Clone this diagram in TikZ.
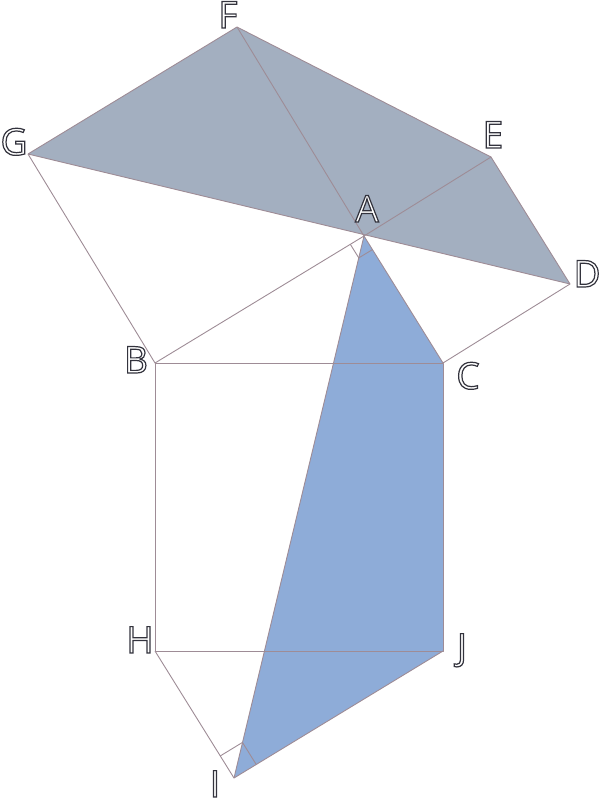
\documentclass[tikz,border=0pt]{standalone}
\usepackage{fontspec}
\setmainfont{Open Sans}
\usetikzlibrary{calc}
\definecolor{edge}{RGB}{158,140,150}
\definecolor{grayfill}{RGB}{163,175,192}
\definecolor{bluefill}{RGB}{142,172,216}
\newcommand\outl[1]{\special{pdf:literal direct 2 Tr 1.2 w 0.2 0.2 0.24 RG}#1\special{pdf:literal direct 0 Tr}}
\begin{document}
\begin{tikzpicture}[x=1pt,y=-1pt,
  seg/.style={draw=edge,line width=0.9pt,line join=round},
  lab/.style={anchor=base,inner sep=0pt,text=white,font=\fontsize{37}{37}\selectfont}]
\useasboundingbox (0,0) rectangle (601,801);
\coordinate (A) at (364,236);
\coordinate (B) at (155,363);
\coordinate (C) at (443,363);
\coordinate (G) at (28,154);
\coordinate (F) at (237,27);
\coordinate (E) at (491,157);
\coordinate (D) at (570,284);
\coordinate (H) at (155,651);
\coordinate (J) at (443,651);
\coordinate (I) at (234,778);
% fills
\fill[grayfill] (G) -- (F) -- (E) -- (D) -- cycle;
\fill[bluefill] (A) -- (C) -- (J) -- (I) -- cycle;
% edges
\draw[seg] (G) -- (F) -- (E) -- (D) -- (G);
\draw[seg] (F) -- (A) -- (E);
\draw[seg] (G) -- (B) -- (A) -- (C) -- (D);
\draw[seg] (B) -- (C) -- (J) -- (H) -- (B);
\draw[seg] (H) -- (I) -- (J);
\draw[seg] (A) -- (I);
% right angle marks
\draw[seg] ($(A)!16pt!(B)$) -- ($(A)!16pt!(B)+(A)!16pt!(C)-(A)$) -- ($(A)!16pt!(C)$);
\draw[seg] ($(I)!26pt!(H)$) -- ($(I)!26pt!(H)+(I)!26pt!(J)-(I)$) -- ($(I)!26pt!(J)$);
% labels
\node[lab] (lF) at (228,28) {\outl{F}};
\node[lab] (lG) at (14,155) {\outl{G}};
\node[lab] (lE) at (493,148) {\outl{E}};
\node[lab] (lA) at (367,222) {\outl{A}};
\node[lab] (lD) at (587,287) {\outl{D}};
\node[lab] (lB) at (136,373) {\outl{B}};
\node[lab] (lC) at (468,389) {\outl{C}};
\node[lab] (lH) at (140,653) {\outl{H}};
\node[lab] (lJ) at (462,660) {\outl{J}};
\node[lab] (lI) at (215,797) {\outl{I}};
\end{tikzpicture}
\end{document}
